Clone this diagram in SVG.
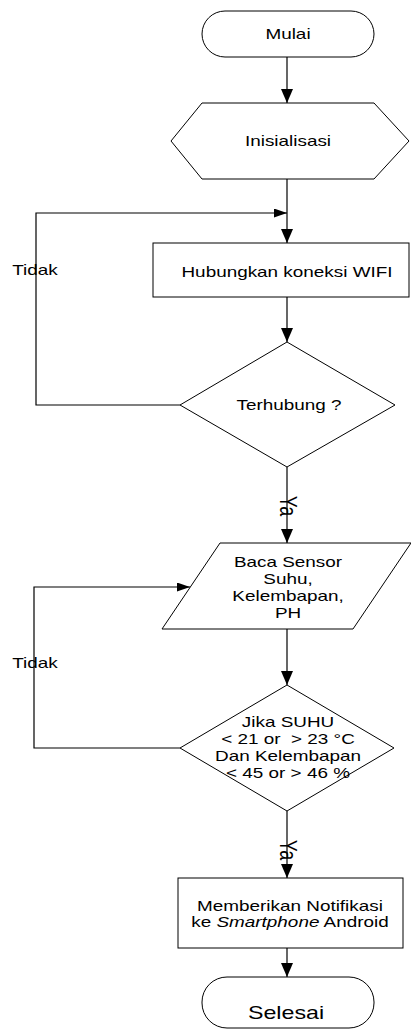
<svg xmlns="http://www.w3.org/2000/svg" width="411" height="1034" viewBox="0 0 411 1034">
<style>
.s{fill:#fff;stroke:#000;stroke-width:1}
.c{fill:none;stroke:#000;stroke-width:1.2}
text{font-family:"Liberation Sans",Arial,sans-serif;font-size:14px;fill:#000;text-anchor:middle}
.big{font-size:18px}
</style>
<defs>
<marker id="arrV" markerUnits="userSpaceOnUse" markerWidth="14" markerHeight="12" refX="14" refY="6" orient="auto"><path d="M0,0 L14,6 L0,12 z" fill="#000"/></marker>
<marker id="arrH" markerUnits="userSpaceOnUse" markerWidth="13" markerHeight="9" refX="13" refY="4.5" orient="auto"><path d="M0,0 L13,4.5 L0,9 z" fill="#000"/></marker>
</defs>
<rect width="411" height="1034" fill="#fff"/>
<g id="connectors">
<path class="c" d="M287,57 V103" marker-end="url(#arrV)"/>
<path class="c" d="M287,179 V243" marker-end="url(#arrV)"/>
<path class="c" d="M180,405 H36 V213 H287" marker-end="url(#arrH)"/>
<path class="c" d="M287,297 V342" marker-end="url(#arrV)"/>
<path class="c" d="M287,467 V543" marker-end="url(#arrV)"/>
<path class="c" d="M180,748 H34 V587 H190" marker-end="url(#arrH)"/>
<path class="c" d="M287,629 V685" marker-end="url(#arrV)"/>
<path class="c" d="M287,811 V878" marker-end="url(#arrV)"/>
<path class="c" d="M287,948 V977" marker-end="url(#arrV)"/>
<text class="big" transform="translate(288 506) scale(1.35 1) rotate(90)" x="0" y="6">Ya</text>
<text class="big" transform="translate(288 850) scale(1.35 1) rotate(90)" x="0" y="6">Ya</text>
<text transform="translate(35 0) scale(1.35 1)" x="0" y="275">Tidak</text>
<text transform="translate(35 0) scale(1.35 1)" x="0" y="668">Tidak</text>
</g>
<g id="mulai">
<rect class="s" x="202" y="11" width="172" height="46" rx="23" ry="23"/>
<text transform="translate(288 0) scale(1.35 1)" x="0" y="39">Mulai</text>
</g>
<g id="inisialisasi">
<polygon class="s" points="171,141 202,103 374,103 409,141 374,179 202,179"/>
<text transform="translate(288 0) scale(1.35 1)" x="0" y="146">Inisialisasi</text>
</g>
<g id="wifi">
<rect class="s" x="153" y="243" width="256" height="54"/>
<text transform="translate(287 0) scale(1.35 1)" x="0" y="277">Hubungkan koneksi WIFI</text>
</g>
<g id="terhubung">
<polygon class="s" points="287,342 395,405 287,467 180,405"/>
<text transform="translate(289 0) scale(1.35 1)" x="0" y="410">Terhubung ?</text>
</g>
<g id="sensor">
<polygon class="s" points="220,543 411,543 353,629 162,629"/>
<text transform="translate(288 0) scale(1.35 1)" x="0" y="567">Baca Sensor</text>
<text transform="translate(288 0) scale(1.35 1)" x="0" y="584">Suhu,</text>
<text transform="translate(288 0) scale(1.35 1)" x="0" y="601">Kelembapan,</text>
<text transform="translate(288 0) scale(1.35 1)" x="0" y="618">PH</text>
</g>
<g id="kondisi">
<polygon class="s" points="287,685 394,748 287,811 180,748"/>
<text transform="translate(288 0) scale(1.35 1)" x="0" y="727">Jika SUHU</text>
<text transform="translate(288 0) scale(1.35 1)" x="0" y="744" xml:space="preserve">&lt; 21 or  &gt; 23 °C</text>
<text transform="translate(288 0) scale(1.35 1)" x="0" y="761">Dan Kelembapan</text>
<text transform="translate(288 0) scale(1.35 1)" x="0" y="778">&lt; 45 or &gt; 46 %</text>
</g>
<g id="notifikasi">
<rect class="s" x="178" y="878" width="225" height="70"/>
<text transform="translate(290 0) scale(1.35 1)" x="0" y="911">Memberikan Notifikasi</text>
<text transform="translate(290 0) scale(1.35 1)" x="0" y="927">ke <tspan font-style="italic">Smartphone</tspan> Android</text>
</g>
<g id="selesai">
<rect class="s" x="202" y="977" width="172" height="51" rx="25" ry="25"/>
<text class="big" transform="translate(286 0) scale(1.29 1)" x="0" y="1019">Selesai</text>
</g>
</svg>
